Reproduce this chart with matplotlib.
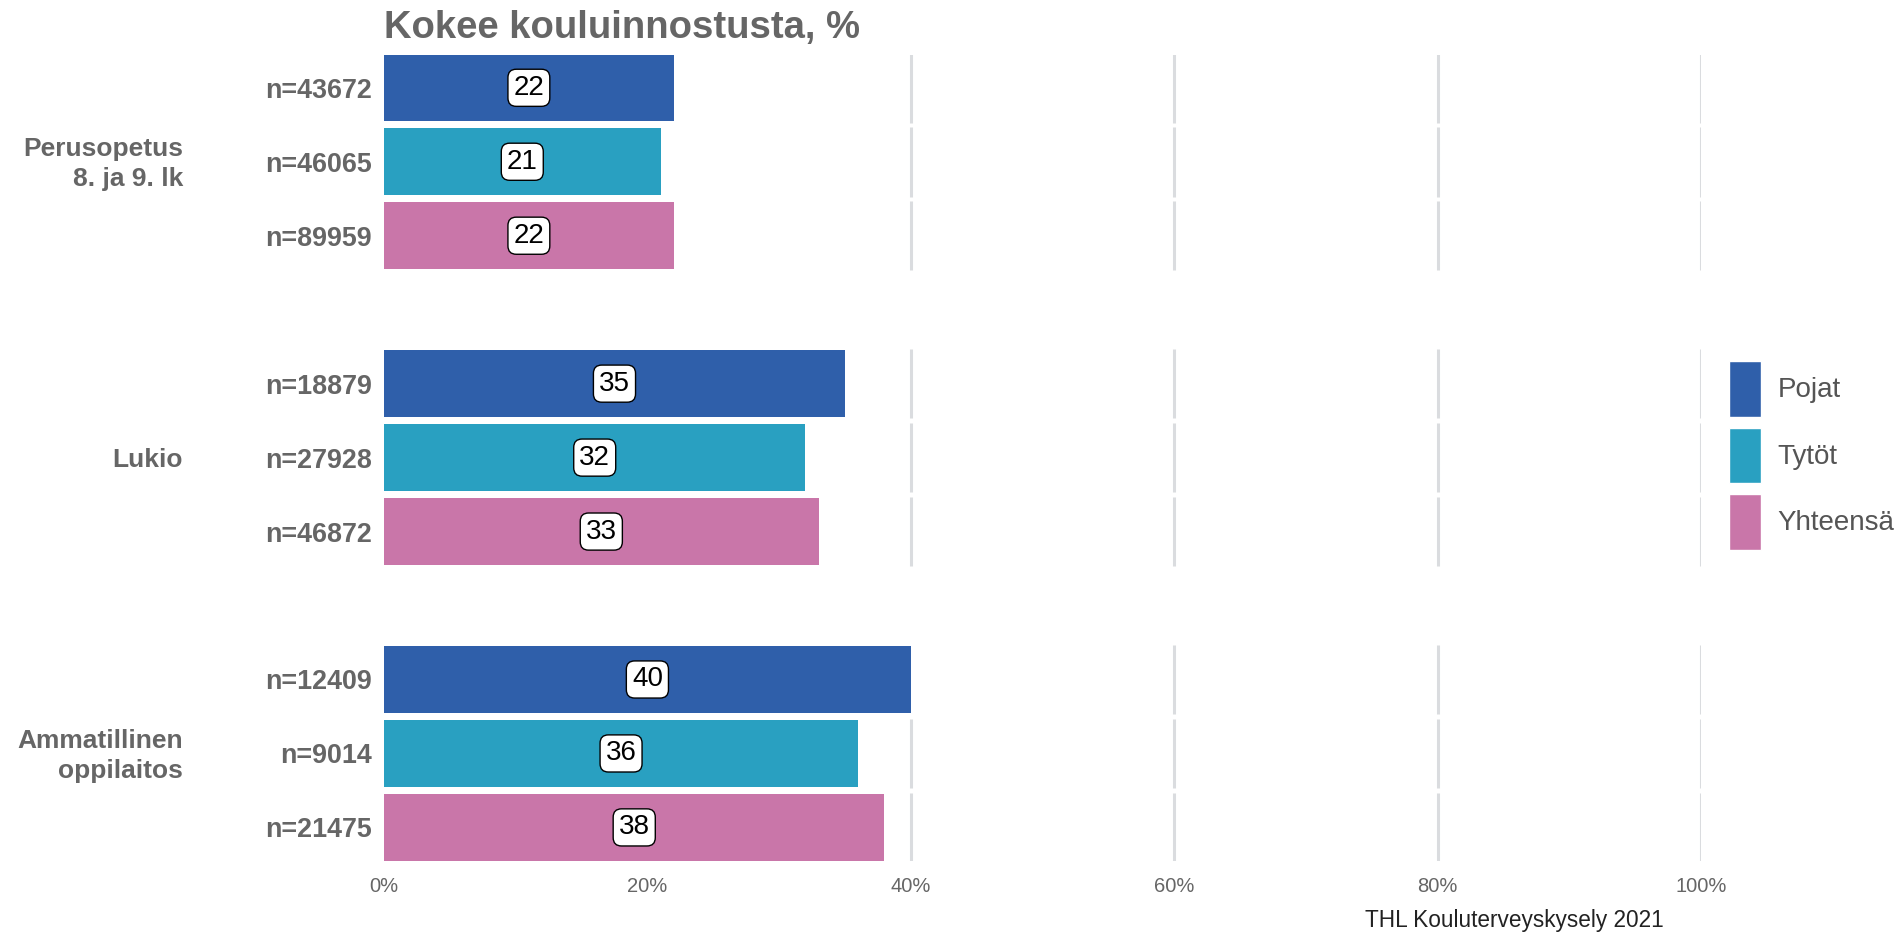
import numpy as np
import matplotlib
matplotlib.use("Agg")
import matplotlib.pyplot as plt
from matplotlib.patches import Patch

plt.rcParams['font.family'] = ['Liberation Sans', 'DejaVu Sans']

# Data
ryhmat = ['Perusopetus\n8. ja 9. lk', 'Lukio', 'Ammatillinen\noppilaitos']
sarjat = ['Pojat', 'Tytöt', 'Yhteensä']
arvot = [[22, 21, 22],
         [35, 32, 33],
         [40, 36, 38]]
n_arvot = [[43672, 46065, 89959],
           [18879, 27928, 46872],
           [12409, 9014, 21475]]
x_ticks = [0, 20, 40, 60, 80, 100]
x_tick_labels = ['0%', '20%', '40%', '60%', '80%', '100%']
varit = ['#2f5faa', '#29a0c1', '#c976a9']

W, H = 1898, 934
fig = plt.figure(figsize=(W / 100, H / 100), dpi=100)
left, right = 384 / W, 1701 / W
top, bottom = 1 - 54.5 / H, 1 - 860.7 / H
ax = fig.add_axes([left, bottom, right - left, top - bottom])

harmaa = '#666666'
y_pos = []
y_labels = []
for g, ryhma in enumerate(ryhmat):
    for i, sarja in enumerate(sarjat):
        y = g * 4 + i
        y_pos.append(y)
        y_labels.append(f'n={n_arvot[g][i]}')
        v = arvot[g][i]
        # pystyviivat vain rivin kohdalle, palkin alle jäävät pois
        nakyvat = [t for t in x_ticks if t > v]
        ax.vlines(nakyvat, y - 0.47, y + 0.47, colors='#dadcdf', linewidth=2.2, zorder=0)
        ax.barh(y, v, height=0.9, color=varit[i], zorder=2)
        ax.text(v / 2, y, str(v), ha='center', va='center', fontsize=20, color='black', zorder=3,
                bbox=dict(boxstyle='round,pad=0.2,rounding_size=0.3', fc='white', ec='black', lw=1))
    ax.annotate(ryhma, xy=(183 / W, g * 4 + 1.03), xycoords=('figure fraction', 'data'),
                ha='right', va='center', fontsize=19, fontweight='bold', color=harmaa,
                linespacing=1.3)

ax.set_xlim(0, 100)
ax.set_ylim(10.45, -0.45)
ax.set_yticks(y_pos)
ax.set_yticklabels(y_labels, fontsize=19.4, fontweight='bold', color=harmaa)
ax.set_xticks(x_ticks)
ax.set_xticklabels(x_tick_labels, fontsize=14.5, color=harmaa)
ax.tick_params(axis='both', length=0)
ax.tick_params(axis='y', pad=8.5)
ax.tick_params(axis='x', pad=12)
for s in ax.spines.values():
    s.set_visible(False)

fig.text(384 / W, 1 - 28 / H, 'Kokee kouluinnostusta, %', ha='left', va='center',
         fontsize=27.5, fontweight='bold', color=harmaa)
fig.text(1664 / W, 1 - 920 / H, 'THL Kouluterveyskysely 2021', ha='right', va='center',
         fontsize=16.3, color='#222222')

handles = [Patch(facecolor=c, edgecolor='white', linewidth=1) for c in varit]
fig.legend(handles, sarjat, loc='upper left', bbox_to_anchor=(1729 / W, 1 - 361 / H),
           frameon=False, fontsize=20, handlelength=1.15, handleheight=2.7,
           labelspacing=0.4, handletextpad=0.6, borderpad=0, borderaxespad=0,
           labelcolor='#555555')

fig.savefig('out.png', dpi=100)
